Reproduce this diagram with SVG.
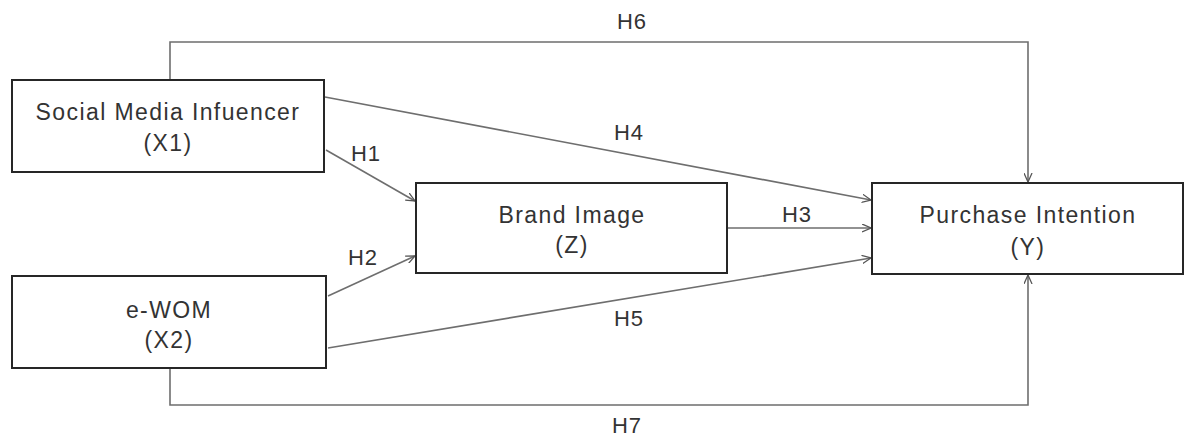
<svg xmlns="http://www.w3.org/2000/svg" width="1189" height="438" viewBox="0 0 1189 438">
<style>
.box{fill:#fff;stroke:#262626;stroke-width:2}
.lbl{font-family:"Liberation Sans",Arial,sans-serif;font-size:23px;letter-spacing:1.4px;fill:#333;text-anchor:middle}
.hl{font-family:"Liberation Sans",Arial,sans-serif;font-size:22px;letter-spacing:1px;fill:#333;text-anchor:middle}
.con{fill:none;stroke:#6e6e6e;stroke-width:1.6}
</style>
<defs>
<marker id="arr" viewBox="0 0 10 10" refX="10" refY="5" markerWidth="9" markerHeight="9" markerUnits="userSpaceOnUse" orient="auto">
<path d="M0,0.5 L10,5 L0,9.5" fill="none" stroke="#555" stroke-width="1.4"/>
</marker>
</defs>
<rect width="1189" height="438" fill="#fff"/>
<g id="connectors">
<path class="con" d="M170,80 V42 H1028 V182" marker-end="url(#arr)"/>
<path class="con" d="M170,368 V405 H1028 V275" marker-end="url(#arr)"/>
<path class="con" d="M325,97 L871,200" marker-end="url(#arr)"/>
<path class="con" d="M326,150 L415,201" marker-end="url(#arr)"/>
<path class="con" d="M328,296 L415,256" marker-end="url(#arr)"/>
<path class="con" d="M727,228 L871,228" marker-end="url(#arr)"/>
<path class="con" d="M328,348 L871,258" marker-end="url(#arr)"/>
<text class="hl" x="632" y="29">H6</text>
<text class="hl" x="629" y="140">H4</text>
<text class="hl" x="366" y="161">H1</text>
<text class="hl" x="363" y="265">H2</text>
<text class="hl" x="797" y="222">H3</text>
<text class="hl" x="629" y="326">H5</text>
<text class="hl" x="627" y="433">H7</text>
</g>
<g id="x1">
<rect class="box" x="12" y="80" width="312" height="92"/>
<text class="lbl" x="168" y="120">Social Media Infuencer</text>
<text class="lbl" x="168" y="151">(X1)</text>
</g>
<g id="x2">
<rect class="box" x="12" y="276" width="314" height="92"/>
<text class="lbl" x="169" y="318">e-WOM</text>
<text class="lbl" x="169" y="348">(X2)</text>
</g>
<g id="z">
<rect class="box" x="416" y="183" width="311" height="90"/>
<text class="lbl" x="572" y="223">Brand Image</text>
<text class="lbl" x="572" y="253">(Z)</text>
</g>
<g id="y">
<rect class="box" x="872" y="183" width="311" height="91"/>
<text class="lbl" x="1028" y="223">Purchase Intention</text>
<text class="lbl" x="1028" y="255">(Y)</text>
</g>
</svg>
